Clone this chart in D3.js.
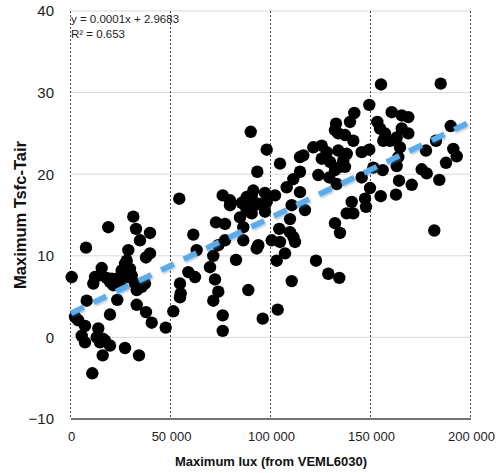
<!DOCTYPE html>
<html>
<head>
<meta charset="utf-8">
<script src="https://cdn.jsdelivr.net/npm/d3@7"></script>
<style>
  body { margin: 0; background: #fff; }
  svg { display: block; font-family: "Liberation Sans", Arial, sans-serif; }
</style>
</head>
<body>
<svg id="chart" width="500" height="473"></svg>
<script>
// lux readings (x) and max surface minus air temperature (y)
let luxValues = [
  350, 7500, 18650, 31150, 32500, 34500, 39500, 28650, 39500, 37500,
  15350, 12000, 14500, 11150, 17850, 20350, 21150, 19500, 25350, 27000,
  27850, 29500, 26150, 28650, 30350, 22850, 24500, 37000, 35350, 33650,
  32000, 32850, 7850, 23150, 19500, 32850, 37500, 40350, 47350, 51150,
  54500, 54850, 54500, 58650, 62000, 61150, 62850, 54150, 2000, 3650,
  7000, 5350, 7000, 13650, 12850, 14500, 17000, 19500, 16150, 15850,
  27000, 34000, 10650,
  71150, 69500, 72000, 73650, 71150, 75850, 75850, 88650, 82500, 95850,
  103350, 110350, 122500, 128650, 134150, 102850, 107000, 100350, 104500, 112000,
  86150, 92850, 93650, 72500, 77000, 86150, 75850, 79500, 79500, 85350,
  87000, 88650, 90350, 91150, 87850, 87850, 90350, 93650, 84500, 92000,
  97000, 102000, 97850, 97000, 89850, 97850, 104500, 93150, 104150, 109500,
  111150, 73650, 77000, 107850, 111150, 114500, 114500, 116150, 114500, 110350,
  117000, 109500, 121150, 125350, 125350, 123650, 129150,
  155000, 184850, 149150, 141650, 139500, 132500, 132000, 133650, 137000, 141150,
  133650, 137850, 136150, 134500, 132000, 137000, 129500, 145350, 149150, 132850,
  145350, 149500, 147000, 147500, 140350, 137850, 141150, 132000, 134500, 153150,
  154500, 157000, 156150, 159500, 160350, 165350, 168650, 165350, 168650, 162850,
  164500, 163650, 151150, 155850, 162850, 154850, 162500, 164000, 170350, 177500,
  182500, 189850, 191150, 192850, 187500, 175350, 177850, 184150, 181650, 127850
];
let tempDiffValues = [
  7.4, 11.0, 13.5, 14.8, 13.3, 11.9, 12.8, 10.7, 10.3, 9.8,
  8.5, 7.4, 7.6, 6.6, 7.3, 7.2, 6.4, 6.8, 8.2, 9.0,
  9.4, 8.4, 7.6, 7.4, 7.6, 7.2, 6.4, 6.6, 6.2, 6.0,
  6.6, 5.8, 4.5, 4.6, 2.8, 4.0, 3.1, 1.8, 1.2, 3.2,
  6.6, 5.4, 4.9, 8.0, 7.4, 12.6, 10.7, 17.0, 2.5, 2.1,
  1.4, 0.2, -0.6, 1.1, 0.0, -0.6, -0.4, -1.0, -0.2, -2.2,
  -1.3, -2.2, -4.4,
  10.0, 8.6, 7.1, 5.6, 4.5, 2.7, 0.8, 5.8, 9.5, 2.3,
  3.4, 6.9, 9.4, 7.8, 7.3, 9.4, 10.3, 11.9, 11.7, 11.7,
  11.9, 10.9, 11.3, 14.1, 13.9, 13.5, 17.4, 16.2, 16.8, 16.5,
  16.2, 16.5, 17.4, 18.0, 17.2, 15.6, 15.2, 16.4, 14.7, 16.2,
  17.7, 17.4, 16.6, 15.4, 25.2, 23.0, 21.3, 20.3, 13.3, 12.9,
  12.3, 11.3, 11.9, 18.4, 19.4, 20.3, 22.1, 22.3, 17.8, 16.2,
  15.6, 14.5, 23.3, 23.5, 21.9, 19.9, 19.6,
  31.0, 31.1, 28.5, 27.5, 26.4, 26.2, 25.4, 25.0, 24.8, 24.1,
  22.9, 22.5, 21.7, 20.9, 20.5, 20.9, 21.5, 22.7, 23.0, 18.8,
  19.6, 18.3, 17.0, 16.0, 16.6, 15.2, 15.2, 14.0, 12.8, 26.4,
  25.6, 25.0, 24.1, 24.1, 27.6, 27.2, 27.0, 25.6, 25.0, 24.5,
  23.3, 22.1, 20.8, 20.5, 21.0, 17.3, 17.5, 19.2, 18.7, 22.9,
  24.1, 25.9, 23.1, 22.2, 21.4, 20.6, 20.1, 19.3, 13.1, 22.7
];

let xTicks = [0, 50000, 100000, 150000, 200000];
let yTicks = [-10, 0, 10, 20, 30, 40];

// linear trend (label shows the rounded slope)
let trendIntercept = 2.9683;
let trendSlope = 0.0001175;
let trendLabel = ['y = 0.0001x + 2.9683', 'R\u00b2 = 0.653'];

let xTitle = 'Maximum lux (from VEML6030)';
let yTitle = 'Maximum Tsfc-Tair';

let plotLeft = 71, plotRight = 471, plotTop = 11, plotBottom = 419;

let xScale = d3.scaleLinear()
  .domain([0, 200000])
  .range([plotLeft, plotRight]);
let yScale = d3.scaleLinear()
  .domain([-10, 40])
  .range([plotBottom, plotTop]);

let spaceFormat = d3.formatLocale({decimal: '.', thousands: ' ', grouping: [3], currency: ['', '']}).format(',d');

let svg = d3.select('#chart');

let defs = svg.append('defs');
let shadow = defs.append('filter').attr('id', 'shadow')
  .attr('x', '-10%').attr('y', '-50%').attr('width', '120%').attr('height', '200%');
shadow.append('feDropShadow')
  .attr('dx', 1).attr('dy', 1.5).attr('stdDeviation', 1)
  .attr('flood-color', '#777').attr('flood-opacity', 0.5);

// horizontal grid lines
svg.append('g')
  .selectAll('line')
  .data(yTicks.filter(function(d) {return d > -10}))
  .join('line')
  .attr('x1', plotLeft)
  .attr('x2', plotRight)
  .attr('y1', function(d) {return yScale(d)})
  .attr('y2', function(d) {return yScale(d)})
  .attr('stroke', '#d9d9d9')
  .attr('stroke-width', 1);

// vertical dotted grid lines
svg.append('g')
  .selectAll('line')
  .data(xTicks)
  .join('line')
  .attr('x1', function(d) {return Math.round(xScale(d)) - 0.5})
  .attr('x2', function(d) {return Math.round(xScale(d)) - 0.5})
  .attr('y1', plotTop)
  .attr('y2', plotBottom)
  .attr('stroke', '#444')
  .attr('stroke-width', 1)
  .attr('stroke-dasharray', '2,2');

// bottom axis line
svg.append('line')
  .attr('x1', plotLeft).attr('x2', plotRight)
  .attr('y1', yScale(-10)).attr('y2', yScale(-10))
  .attr('stroke', '#444')
  .attr('stroke-width', 1.3);

let xAxis = svg.append('g')
  .attr('transform', 'translate(0,' + plotBottom + ')')
  .call(d3.axisBottom(xScale).tickValues(xTicks).tickFormat(spaceFormat).tickSize(0).tickPadding(13));
xAxis.select('.domain').remove();
xAxis.selectAll('text')
  .attr('font-size', 13)
  .attr('fill', '#222')
  .attr('font-family', '"Liberation Sans", Arial, sans-serif');

let yAxis = svg.append('g')
  .attr('transform', 'translate(' + plotLeft + ',0)')
  .call(d3.axisLeft(yScale).tickValues(yTicks).tickSize(0).tickPadding(17));
yAxis.select('.domain').remove();
yAxis.selectAll('text')
  .attr('font-size', 15)
  .attr('fill', '#222')
  .attr('font-family', '"Liberation Sans", Arial, sans-serif');

// points
let points = luxValues.map(function(d, i) {return {x: d, y: tempDiffValues[i]}});
svg.append('g')
  .selectAll('circle')
  .data(points)
  .join('circle')
  .attr('cx', function(d) {return xScale(d.x)})
  .attr('cy', function(d) {return yScale(d.y)})
  .attr('r', 6.2)
  .attr('fill', '#000');

// trend line
svg.append('line')
  .attr('x1', xScale(0))
  .attr('x2', xScale(200000))
  .attr('y1', yScale(trendIntercept))
  .attr('y2', yScale(trendIntercept + trendSlope * 200000))
  .attr('stroke', '#55aef2')
  .attr('stroke-width', 5.5)
  .attr('stroke-dasharray', '14,11')
  .attr('filter', 'url(#shadow)');

svg.append('g')
  .selectAll('text')
  .data(trendLabel)
  .join('text')
  .attr('x', plotLeft)
  .attr('y', function(d, i) {return 22.5 + i * 15})
  .attr('font-size', 11.5)
  .attr('fill', '#222')
  .text(function(d) {return d});

svg.append('text')
  .attr('x', (plotLeft + plotRight) / 2)
  .attr('y', 466)
  .attr('text-anchor', 'middle')
  .attr('font-size', 13)
  .attr('font-weight', 'bold')
  .attr('fill', '#111')
  .text(xTitle);

svg.append('text')
  .attr('transform', 'translate(26,' + (plotTop + plotBottom) / 2 + ') rotate(-90)')
  .attr('text-anchor', 'middle')
  .attr('font-size', 16.5)
  .attr('font-weight', 'bold')
  .attr('fill', '#111')
  .text(yTitle);
</script>
</body>
</html>
